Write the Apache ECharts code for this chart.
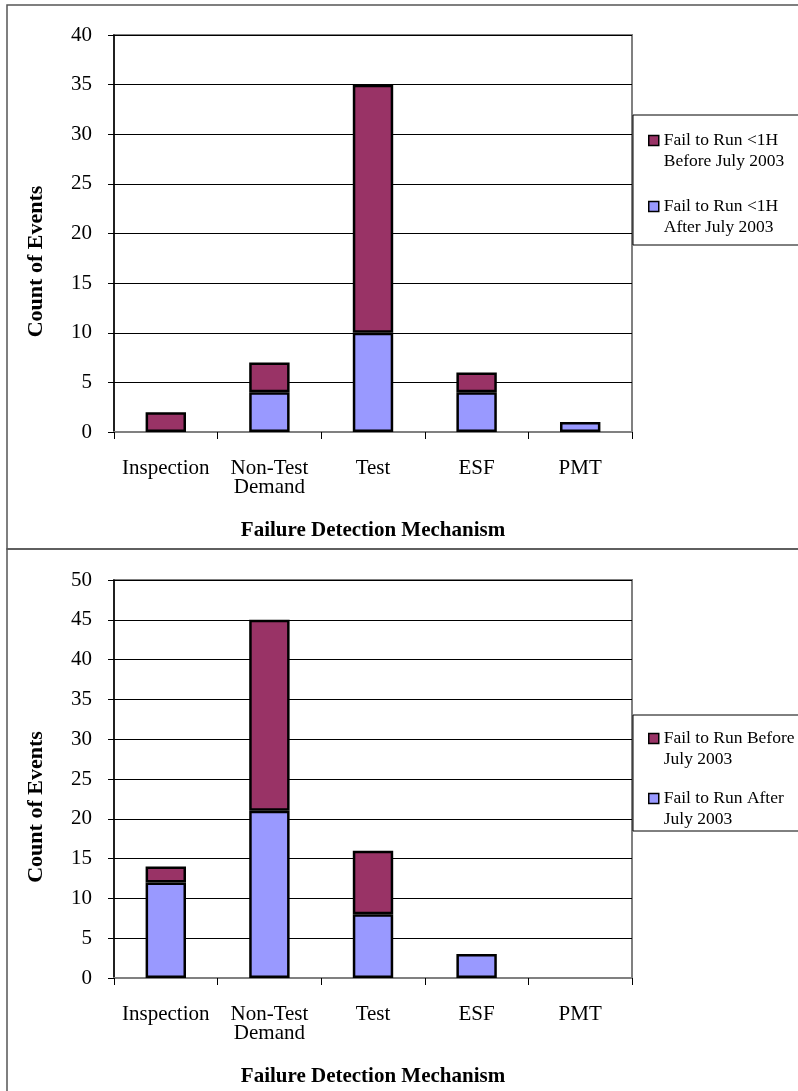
<!DOCTYPE html>
<html>
<head>
<meta charset="utf-8">
<style>
html,body{margin:0;padding:0;background:#fff;}
#chart{width:798px;height:1091px;}
</style>
<script src="https://cdn.jsdelivr.net/npm/echarts@6/dist/echarts.min.js"></script>
</head>
<body>
<div id="chart"></div>
<script>
const categories = ['Inspection', 'Non-Test\nDemand', 'Test', 'ESF', 'PMT'];

const topBefore = [2, 3, 25, 2, 0];
const topAfter = [0, 4, 10, 4, 1];
const topBeforeName = 'Fail to Run <1H Before July 2003';
const topAfterName = 'Fail to Run <1H After July 2003';

const botBefore = [2, 24, 8, 0, 0];
const botAfter = [12, 21, 8, 3, 0];
const botBeforeName = 'Fail to Run Before July 2003';
const botAfterName = 'Fail to Run After July 2003';

const yTicksTop = [0, 5, 10, 15, 20, 25, 30, 35, 40];
const yTicksBot = [0, 5, 10, 15, 20, 25, 30, 35, 40, 45, 50];

const FONT = 'Liberation Serif';
const MAROON = '#993366';
const BLUE = '#9999FF';

const legendLines = {};
legendLines[topBeforeName] = 'Fail to Run <1H\nBefore July 2003';
legendLines[topAfterName] = 'Fail to Run <1H\nAfter July 2003';
legendLines[botBeforeName] = 'Fail to Run Before\nJuly 2003';
legendLines[botAfterName] = 'Fail to Run After\nJuly 2003';

// square icon placed at the top of a taller box so it lines up with the first text line
const LEGEND_ICON = 'path://M0,0L10,0L10,10L0,10Z M0,31';

function xAxis(gridIndex) {
  return {
    type: 'category', gridIndex: gridIndex, data: categories,
    axisLine: {show: true, lineStyle: {color: '#808080', width: 2}},
    axisTick: {show: true, interval: 0, length: 7, lineStyle: {color: '#000', width: 1}},
    axisLabel: {interval: 0, color: '#000', fontFamily: FONT, fontSize: 21, lineHeight: 19, margin: 27},
    name: 'Failure Detection Mechanism', nameLocation: 'middle', nameGap: 88,
    nameTextStyle: {color: '#000', fontFamily: FONT, fontSize: 21, fontWeight: 'bold'}
  };
}
function yAxis(gridIndex, ticks) {
  return {
    type: 'value', gridIndex: gridIndex, min: ticks[0], max: ticks[ticks.length - 1],
    interval: ticks[1] - ticks[0],
    axisLine: {show: true, lineStyle: {color: '#000', width: 1.5}},
    axisTick: {show: true, length: 6, lineStyle: {color: '#000', width: 1}},
    axisLabel: {color: '#000', fontFamily: FONT, fontSize: 21, margin: 22},
    splitLine: {show: true, lineStyle: {color: '#000', width: 1}},
    name: 'Count of Events', nameLocation: 'middle', nameGap: 67,
    nameTextStyle: {color: '#000', fontFamily: FONT, fontSize: 22, fontWeight: 'bold', padding: [0, 56, 0, 0]}
  };
}
function bar(name, vals, color, idx) {
  return {
    name: name, type: 'bar', stack: 's' + idx, xAxisIndex: idx, yAxisIndex: idx,
    barWidth: '39%',
    data: vals.map(v => v === 0 ? null : v),
    itemStyle: {color: color, borderColor: '#000', borderWidth: 2.5},
    emphasis: {disabled: true}
  };
}
function legend(names, top, gap) {
  return {
    orient: 'vertical', left: 648, top: top, padding: 0, data: names,
    icon: LEGEND_ICON, itemWidth: 10, itemHeight: 31, itemGap: gap,
    itemStyle: {borderColor: '#000', borderWidth: 1.5},
    textStyle: {color: '#000', fontFamily: FONT, fontSize: 17.5, lineHeight: 21},
    formatter: n => legendLines[n],
    selectedMode: false
  };
}

const chart = echarts.init(document.getElementById('chart'), null, {renderer: 'canvas'});
chart.setOption({
  animation: false,
  backgroundColor: '#fff',
  grid: [
    {left: 114, top: 35, width: 518, height: 397, show: true, borderColor: '#808080', borderWidth: 2, backgroundColor: 'transparent'},
    {left: 114, top: 580, width: 518, height: 398, show: true, borderColor: '#808080', borderWidth: 2, backgroundColor: 'transparent'}
  ],
  xAxis: [xAxis(0), xAxis(1)],
  yAxis: [yAxis(0, yTicksTop), yAxis(1, yTicksBot)],
  legend: [legend([topBeforeName, topAfterName], 130, 24), legend([botBeforeName, botAfterName], 728, 18)],
  series: [
    bar(topAfterName, topAfter, BLUE, 0),
    bar(topBeforeName, topBefore, MAROON, 0),
    bar(botAfterName, botAfter, BLUE, 1),
    bar(botBeforeName, botBefore, MAROON, 1)
  ],
  graphic: [
    {type: 'rect', silent: true, z: 0, shape: {x: 7, y: 5, width: 800, height: 544}, style: {fill: 'none', stroke: '#555', lineWidth: 1.5}},
    {type: 'rect', silent: true, z: 0, shape: {x: 7, y: 549, width: 800, height: 560}, style: {fill: 'none', stroke: '#555', lineWidth: 1.5}},
    {type: 'rect', silent: true, z: 0, shape: {x: 633, y: 115, width: 180, height: 130}, style: {fill: 'none', stroke: '#000', lineWidth: 1}},
    {type: 'rect', silent: true, z: 0, shape: {x: 633, y: 715, width: 180, height: 116}, style: {fill: 'none', stroke: '#000', lineWidth: 1}}
  ]
});
</script>
</body>
</html>
